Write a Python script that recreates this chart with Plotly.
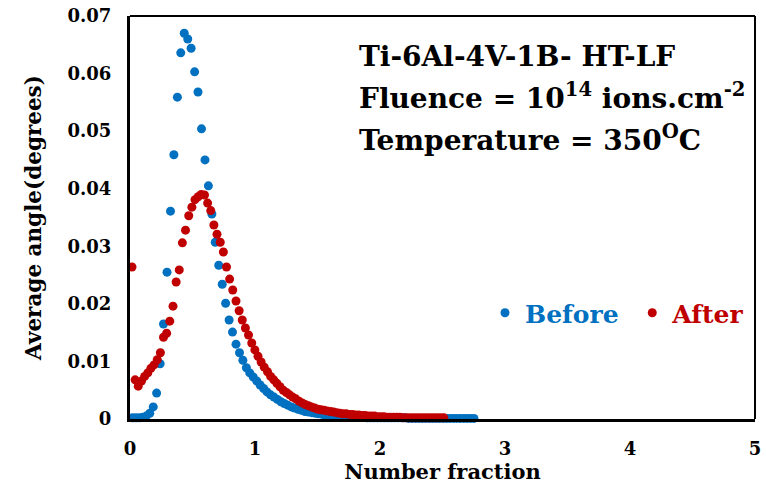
import plotly.graph_objects as go

# ---------------- data ----------------
before_x = [0.020, 0.048, 0.075, 0.103, 0.130, 0.158, 0.186, 0.213, 0.241, 0.268,
            0.296, 0.324, 0.351, 0.379, 0.406, 0.434, 0.462, 0.489, 0.517, 0.544,
            0.572, 0.600, 0.627, 0.655, 0.682, 0.710, 0.738, 0.765, 0.793, 0.820,
            0.848, 0.876, 0.903, 0.931, 0.958, 0.986, 1.014, 1.041, 1.069, 1.096,
            1.124, 1.152, 1.179, 1.207, 1.234, 1.262, 1.290, 1.317, 1.345, 1.372,
            1.400, 1.428, 1.455, 1.483, 1.510, 1.538, 1.566, 1.593, 1.621, 1.648,
            1.676, 1.704, 1.731, 1.759, 1.786, 1.814, 1.842, 1.869, 1.897, 1.924,
            1.952, 1.980, 2.007, 2.035, 2.062, 2.090, 2.118, 2.145, 2.173, 2.200,
            2.228, 2.256, 2.283, 2.311, 2.338, 2.366, 2.394, 2.421, 2.449, 2.476,
            2.504, 2.532, 2.559, 2.587, 2.614, 2.642, 2.670, 2.697, 2.725, 2.752]
before_y = [0.0002, 0.0002, 0.0002, 0.0003, 0.0005, 0.0010, 0.0021, 0.0045, 0.0096, 0.0165,
            0.0255, 0.0361, 0.0459, 0.0559, 0.0636, 0.0670, 0.0660, 0.0644, 0.0603, 0.0568,
            0.0504, 0.0450, 0.0405, 0.0356, 0.0307, 0.0267, 0.0234, 0.0201, 0.0172, 0.0151,
            0.0130, 0.0115, 0.0102, 0.0089, 0.0080, 0.0073, 0.0066, 0.0059, 0.0053, 0.0047,
            0.0042, 0.0038, 0.0034, 0.0030, 0.0027, 0.0024, 0.0021, 0.0019, 0.0017, 0.0015,
            0.0013, 0.0012, 0.0011, 0.0010, 0.0009, 0.0008, 0.0007, 0.0006, 0.0006, 0.0005,
            0.0005, 0.0004, 0.0004, 0.0004, 0.0003, 0.0003, 0.0003, 0.0003, 0.0002, 0.0002,
            0.0002, 0.0002, 0.0002, 0.0002, 0.0002, 0.0002, 0.0002, 0.0002, 0.0002, 0.0002,
            0.0001, 0.0001, 0.0001, 0.0001, 0.0001, 0.0001, 0.0001, 0.0001, 0.0001, 0.0001,
            0.0001, 0.0001, 0.0001, 0.0001, 0.0001, 0.0001, 0.0001, 0.0001, 0.0001, 0.0001]

after_x = [0.016, 0.041, 0.066, 0.092, 0.117, 0.142, 0.167, 0.192, 0.218, 0.243,
           0.268, 0.293, 0.318, 0.344, 0.369, 0.394, 0.419, 0.444, 0.470, 0.495,
           0.520, 0.545, 0.570, 0.596, 0.621, 0.646, 0.671, 0.696, 0.722, 0.747,
           0.772, 0.797, 0.822, 0.848, 0.873, 0.898, 0.923, 0.948, 0.974, 0.999,
           1.024, 1.049, 1.074, 1.100, 1.125, 1.150, 1.175, 1.200, 1.226, 1.251,
           1.276, 1.301, 1.326, 1.352, 1.377, 1.402, 1.427, 1.452, 1.478, 1.503,
           1.528, 1.553, 1.578, 1.604, 1.629, 1.654, 1.679, 1.704, 1.730, 1.755,
           1.780, 1.805, 1.830, 1.856, 1.881, 1.906, 1.931, 1.956, 1.982, 2.007,
           2.032, 2.057, 2.082, 2.108, 2.133, 2.158, 2.183, 2.208, 2.234, 2.259,
           2.284, 2.309, 2.334, 2.360, 2.385, 2.410, 2.435, 2.460, 2.486, 2.511]
after_y = [0.0264, 0.0068, 0.0057, 0.0066, 0.0074, 0.0080, 0.0088, 0.0094, 0.0103, 0.0115,
           0.0142, 0.0149, 0.0170, 0.0196, 0.0238, 0.0259, 0.0306, 0.0328, 0.0353, 0.0368,
           0.0381, 0.0386, 0.0390, 0.0389, 0.0375, 0.0362, 0.0337, 0.0321, 0.0307, 0.0290,
           0.0264, 0.0243, 0.0224, 0.0205, 0.0188, 0.0172, 0.0158, 0.0146, 0.0132, 0.0120,
           0.0109, 0.0099, 0.0090, 0.0082, 0.0074, 0.0068, 0.0062, 0.0056, 0.0050, 0.0046,
           0.0042, 0.0038, 0.0035, 0.0031, 0.0028, 0.0025, 0.0023, 0.0021, 0.0019, 0.0017,
           0.0016, 0.0015, 0.0014, 0.0013, 0.0012, 0.0011, 0.0010, 0.0009, 0.0009, 0.0008,
           0.0008, 0.0007, 0.0007, 0.0006, 0.0006, 0.0005, 0.0005, 0.0005, 0.0004, 0.0004,
           0.0004, 0.0003, 0.0003, 0.0003, 0.0003, 0.0003, 0.0002, 0.0002, 0.0002, 0.0002,
           0.0002, 0.0002, 0.0002, 0.0002, 0.0002, 0.0002, 0.0002, 0.0002, 0.0002, 0.0002]

x_ticks = [0, 1, 2, 3, 4, 5]
y_ticks = [0, 0.01, 0.02, 0.03, 0.04, 0.05, 0.06, 0.07]
y_tick_text = ["0", "0.01", "0.02", "0.03", "0.04", "0.05", "0.06", "0.07"]

BLUE = "#0070C0"
RED = "#C00000"
FONT = "DejaVu Serif"

fig = go.Figure()
fig.add_trace(go.Scatter(
    x=before_x, y=before_y, mode="markers",
    name=f"<span style='color:{BLUE}'>Before</span> ",
    marker=dict(color=BLUE, size=9),
    cliponaxis=False,
))
fig.add_trace(go.Scatter(
    x=after_x, y=after_y, mode="markers",
    name=f"<span style='color:{RED}'>After</span>",
    marker=dict(color=RED, size=9),
    cliponaxis=False,
))

fig.update_layout(
    width=766, height=488,
    margin=dict(l=130, r=11, t=16, b=69, autoexpand=False),
    paper_bgcolor="white", plot_bgcolor="white",
    font=dict(family=FONT, color="black"),
    showlegend=True,
    legend=dict(
        orientation="h", x=0.568, y=0.263, xanchor="left", yanchor="middle",
        font=dict(family=FONT, size=25, color="black", weight="bold"),
        bgcolor="rgba(0,0,0,0)", itemwidth=30,
    ),
    xaxis=dict(
        range=[0, 5], tickvals=x_ticks, ticktext=[str(v) for v in x_ticks],
        showgrid=False, zeroline=False, showline=True, linecolor="black", linewidth=3,
        ticks="", ticklabelstandoff=11, automargin=False,
        tickfont=dict(family=FONT, size=18, color="black", weight="bold"),
        title=dict(text="<b>Number fraction</b>", font=dict(family=FONT, size=21, color="black"),
                   standoff=5),
    ),
    yaxis=dict(
        range=[0, 0.07], tickvals=y_ticks, ticktext=y_tick_text,
        showgrid=False, zeroline=False, showline=True, linecolor="black", linewidth=3,
        ticks="", ticklabelstandoff=12, automargin=False,
        tickfont=dict(family=FONT, size=18, color="black", weight="bold"),
        title=dict(text="<b>Average angle(degrees)</b>", font=dict(family=FONT, size=21.5, color="black"),
                   standoff=21),
    ),
    shapes=[
        dict(type="line", xref="paper", yref="paper", x0=0, x1=1, y0=1, y1=1,
             line=dict(color="black", width=2)),
        dict(type="line", xref="paper", yref="paper", x0=1, x1=1, y0=0, y1=1,
             line=dict(color="black", width=2)),
    ],
)

ann_lines = [
    ("<b>Ti-6Al-4V-1B- HT-LF</b>", 0.900),
    ("<b>Fluence = 10<sup>14</sup> ions.cm<sup>-2</sup></b>", 0.801),
    ("<b>Temperature = 350<sup>O</sup>C</b>", 0.697),
]
for txt, yy in ann_lines:
    fig.add_annotation(
        text=txt, xref="paper", yref="paper", x=0.363, y=yy,
        xanchor="left", yanchor="middle", showarrow=False, align="left",
        font=dict(family=FONT, size=28, color="black"),
    )

fig.write_html("out.html")
